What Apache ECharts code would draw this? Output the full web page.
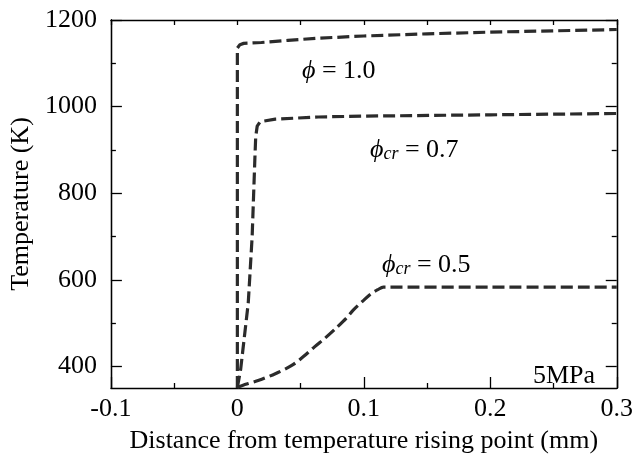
<!DOCTYPE html>
<html><head><meta charset="utf-8">
<script src="https://cdn.jsdelivr.net/npm/echarts@6/dist/echarts.min.js"></script>
<style>html,body{margin:0;padding:0;background:#fff}#c{width:636px;height:461px}</style>
</head><body><div id="c"></div>
<script>
// Data (distance in mm, temperature in K)
const phi10 = [[0,350],[0,1135],[0.002,1143],[0.005,1146],[0.019,1148],[0.04,1153],[0.064,1158],[0.1,1163],[0.15,1168],[0.2,1172],[0.25,1175],[0.3,1178]];
const phi07 = [[0,351],[0.0026,393],[0.0086,546],[0.0117,700],[0.0138,876],[0.0145,930],[0.0157,955],[0.018,965],[0.03,971],[0.064,976],[0.1,978],[0.2,981],[0.3,984]];
const phi05 = [[0,352],[0.004,356],[0.017,368],[0.03,383],[0.043,402],[0.052,422],[0.061,445],[0.07,467],[0.079,491],[0.086,511],[0.092,531],[0.1,553],[0.105,566],[0.111,577],[0.1155,583],[0.2,583],[0.3,583]];
const yMajor = [400,600,800,1000,1200];
const yMinor = [500,700,900,1100];
const xTitle = 'Distance from temperature rising point (mm)';
const yTitle = 'Temperature (K)';

const FONT = 'Liberation Serif';
const FS = 26;
const AX = {onZero:false,lineStyle:{color:'#000',width:1.3}};
const chart = echarts.init(document.getElementById('c'));
const xBase = {type:'value',min:-0.1,max:0.3,interval:0.1,splitLine:{show:false},axisLine:AX};
const yBase = {type:'value',min:350,max:1200,splitLine:{show:false},axisLine:AX};
const lineStyle = {color:'#2b2b2b',width:3.2,type:[12,5]};
function ser(d,sm){return {type:'line',data:d,showSymbol:false,smooth:sm||false,lineStyle:lineStyle,xAxisIndex:0,yAxisIndex:0,animation:false};}
chart.setOption({
  animation:false,
  grid:{left:105,right:17,top:20,bottom:73},
  xAxis:[
    Object.assign({},xBase,{position:'bottom',name:xTitle,nameLocation:'middle',nameGap:40,
      nameTextStyle:{fontFamily:FONT,fontSize:FS,color:'#000'},
      axisLabel:{fontFamily:FONT,fontSize:FS,color:'#000',margin:8,formatter:v=>String(Math.round(v*10)/10)},
      axisTick:{inside:true,length:11,lineStyle:{color:'#000',width:1.3}},
      minorTick:{show:true,splitNumber:2,length:5,lineStyle:{color:'#000',width:1.3}}}),
    Object.assign({},xBase,{position:'top',axisLabel:{show:false},
      axisTick:{inside:true,length:5,lineStyle:{color:'#000',width:1.3}},
      minorTick:{show:true,splitNumber:2,length:5,lineStyle:{color:'#000',width:1.3}}})
  ],
  yAxis:[
    Object.assign({},yBase,{position:'left',name:yTitle,nameLocation:'middle',nameGap:74,
      nameTextStyle:{fontFamily:FONT,fontSize:FS,color:'#000'},
      axisLabel:{customValues:yMajor,fontFamily:FONT,fontSize:FS,color:'#000',margin:14,formatter:v=>String(v)},
      axisTick:{customValues:yMajor,inside:true,length:11,lineStyle:{color:'#000',width:1.3}}}),
    Object.assign({},yBase,{position:'left',axisLabel:{show:false},
      axisTick:{customValues:yMinor,inside:true,length:5,lineStyle:{color:'#000',width:1.3}}}),
    Object.assign({},yBase,{position:'right',axisLabel:{show:false},
      axisTick:{customValues:yMajor,inside:true,length:11,lineStyle:{color:'#000',width:1.3}}}),
    Object.assign({},yBase,{position:'right',axisLabel:{show:false},
      axisTick:{customValues:yMinor,inside:true,length:5,lineStyle:{color:'#000',width:1.3}}})
  ],
  series:[ser(phi10),ser(phi07),ser(phi05,0.3)],
  graphic:[
    {type:'text',x:302,y:71,style:{text:'{i|ϕ} = 1.0',fontFamily:FONT,fontSize:FS,fill:'#000',verticalAlign:'middle',
      rich:{i:{fontFamily:FONT,fontStyle:'italic',fontSize:FS}}}},
    {type:'text',x:370,y:150,style:{text:'{i|ϕ}{s|cr} = 0.7',fontFamily:FONT,fontSize:FS,fill:'#000',verticalAlign:'middle',
      rich:{i:{fontFamily:FONT,fontStyle:'italic',fontSize:FS},s:{fontFamily:FONT,fontStyle:'italic',fontSize:18,padding:[9,0,0,0]}}}},
    {type:'text',x:382,y:265,style:{text:'{i|ϕ}{s|cr} = 0.5',fontFamily:FONT,fontSize:FS,fill:'#000',verticalAlign:'middle',
      rich:{i:{fontFamily:FONT,fontStyle:'italic',fontSize:FS},s:{fontFamily:FONT,fontStyle:'italic',fontSize:18,padding:[9,0,0,0]}}}},
    {type:'text',x:533,y:376,style:{text:'5MPa',fontFamily:FONT,fontSize:FS,fill:'#000',verticalAlign:'middle'}}
  ]
});
</script></body></html>
